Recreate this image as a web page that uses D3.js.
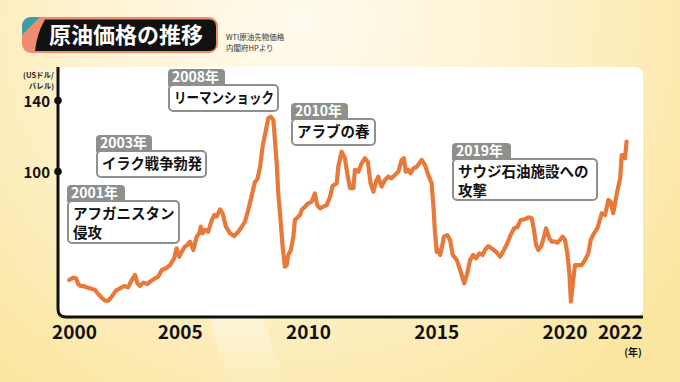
<!DOCTYPE html>
<html lang="ja">
<head>
<meta charset="utf-8">
<script src="https://cdn.jsdelivr.net/npm/d3@7"></script>
<style>
  html, body { margin: 0; padding: 0; background: #fbe9a6; }
  svg { display: block; }
  text { font-family: "Noto Sans CJK JP", "Noto Sans", sans-serif; }
</style>
</head>
<body>
<div id="chart"></div>
<script>
// WTI monthly price (year as decimal, USD/bbl)
var years = [2000.69,2000.85,2000.96,2001.04,2001.14,2001.24,2001.35,2001.50,2001.70,2001.82,
    2001.96,2002.09,2002.21,2002.35,2002.51,2002.67,2002.83,2002.99,2003.13,2003.26,
    2003.35,2003.45,2003.58,2003.73,2003.84,2004.03,2004.16,2004.30,2004.46,2004.62,
    2004.78,2004.88,2004.98,2005.08,2005.20,2005.29,2005.40,2005.53,2005.66,2005.76,
    2005.82,2005.89,2005.98,2006.11,2006.25,2006.35,2006.44,2006.57,2006.67,2006.80,
    2006.96,2007.12,2007.28,2007.42,2007.54,2007.66,2007.82,2007.93,2008.03,2008.13,
    2008.23,2008.36,2008.45,2008.55,2008.65,2008.71,2008.78,2008.84,2008.94,2009.01,
    2009.10,2009.17,2009.23,2009.33,2009.43,2009.49,2009.62,2009.69,2009.75,2009.88,
    2010.01,2010.14,2010.27,2010.36,2010.47,2010.60,2010.73,2010.86,2010.96,2011.12,
    2011.18,2011.31,2011.44,2011.53,2011.64,2011.77,2011.83,2011.96,2012.09,2012.22,
    2012.33,2012.44,2012.55,2012.65,2012.74,2012.87,2013.00,2013.13,2013.26,2013.39,
    2013.52,2013.65,2013.74,2013.81,2013.91,2014.00,2014.11,2014.24,2014.43,2014.56,
    2014.69,2014.82,2014.89,2014.95,2015.02,2015.08,2015.15,2015.21,2015.30,2015.43,
    2015.54,2015.64,2015.80,2015.95,2016.09,2016.21,2016.32,2016.44,2016.55,2016.68,
    2016.81,2016.90,2017.03,2017.16,2017.33,2017.49,2017.64,2017.77,2017.90,2018.03,
    2018.16,2018.29,2018.46,2018.59,2018.72,2018.81,2018.89,2018.98,2019.11,2019.20,
    2019.28,2019.41,2019.50,2019.63,2019.72,2019.82,2019.93,2020.02,2020.11,2020.19,
    2020.25,2020.34,2020.41,2020.54,2020.67,2020.80,2020.93,2021.02,2021.15,2021.28,
    2021.38,2021.45,2021.58,2021.71,2021.80,2021.90,2022.04,2022.17,2022.23,2022.32,
    2022.36,2022.42];

var prices = [38.6,39.9,39.5,36.3,35.2,35.2,34.5,33.9,33.0,30.7,
    28.6,26.9,26.9,29.2,32.6,33.9,35.2,34.5,38.6,41.4,
    36.7,35.2,37.1,36.3,37.6,39.5,40.4,44.2,45.2,47.0,
    50.8,56.4,51.7,54.5,57.4,58.3,60.2,55.5,63.0,64.9,
    68.6,64.9,66.8,65.8,72.4,75.2,74.3,78.4,76.2,68.6,
    64.9,63.4,65.8,68.6,71.3,77.5,87.0,93.8,95.5,102.3,
    113.7,123.1,129.7,130.6,128.7,117.5,104.3,87.4,70.5,57.4,
    46.1,47.0,52.7,55.5,63.0,72.4,74.3,75.2,78.0,79.9,
    81.8,82.7,87.4,80.8,79.0,79.9,80.8,85.5,91.5,93.1,
    102.4,110.9,107.2,98.7,90.3,90.3,100.6,99.6,104.3,107.2,
    105.2,93.1,88.3,94.0,96.8,91.2,94.9,96.8,95.9,97.7,
    99.6,106.2,107.2,99.6,100.6,98.7,101.5,102.4,106.2,103.4,
    97.7,93.2,79.9,65.6,54.4,55.5,52.7,56.4,63.0,63.9,
    61.1,52.7,49.9,43.3,36.7,42.4,49.9,52.7,50.8,53.6,
    52.7,55.5,57.7,56.4,54.5,51.7,55.5,59.3,63.9,67.7,
    68.3,72.4,72.8,73.9,73.4,66.8,58.3,55.5,58.3,63.0,
    67.7,62.1,60.2,60.2,59.6,61.1,63.0,61.1,53.6,42.4,
    26.4,38.6,47.0,47.0,47.0,49.9,53.6,61.1,64.9,67.7,
    72.4,76.2,75.2,83.7,82.7,76.2,87.4,95.9,109.0,109.0,
    107.2,116.5];

var yTicks = [100, 140];
var xTicks = [2000, 2005, 2010, 2015, 2020, 2022];

var eventYears = ['2001年', '2003年', '2008年', '2010年', '2019年'];
var eventTexts = [
    ['アフガニスタン', '侵攻'],
    ['イラク戦争勃発'],
    ['リーマンショック'],
    ['アラブの春'],
    ['サウジ石油施設への', '攻撃']
];

// where each label box sits: [left, tab top, tab width, box width, box height]
var eventBoxes = [
    [68, 185, 57, 111, 42],
    [97, 135, 55, 109, 26],
    [169, 69, 56, 109, 26],
    [292, 103, 56, 83, 26],
    [453, 143, 58, 144, 41]
];

var width = 680;
var height = 382;

var svg = d3.select('#chart')
    .append('svg')
    .attr('width', width)
    .attr('height', height);

var defs = svg.append('defs');

var glow = defs.append('radialGradient')
    .attr('id', 'glow')
    .attr('gradientUnits', 'userSpaceOnUse')
    .attr('cx', 300).attr('cy', 20).attr('r', 460);
glow.append('stop').attr('offset', '0%').attr('stop-color', '#fffbee');
glow.append('stop').attr('offset', '45%').attr('stop-color', '#fef3d2');
glow.append('stop').attr('offset', '100%').attr('stop-color', '#fbe6a0');

var ray = defs.append('linearGradient')
    .attr('id', 'ray')
    .attr('x1', 0).attr('y1', 0).attr('x2', 0).attr('y2', 1);
ray.append('stop').attr('offset', '0%').attr('stop-color', '#fffaea').attr('stop-opacity', 0.6);
ray.append('stop').attr('offset', '100%').attr('stop-color', '#fffaea').attr('stop-opacity', 0.1);

// background
svg.append('rect')
    .attr('width', width)
    .attr('height', height)
    .style('fill', 'url(#glow)');

svg.append('path')
    .attr('d', 'M210,317 L262,317 L285,382 L228,382 Z')
    .style('fill', 'url(#ray)');

// plot panel
var plotL = 58, plotT = 67, plotR = 643, plotB = 317;

svg.append('rect')
    .attr('x', plotL)
    .attr('y', plotT)
    .attr('width', plotR - plotL)
    .attr('height', plotB - plotT)
    .attr('rx', 8)
    .style('fill', '#fff');

var x = d3.scaleLinear()
    .domain([2000, 2022])
    .range([51.5, 615.8]);

var y = d3.scaleLinear()
    .domain([100, 140])
    .range([171, 100]);

// line
var line = d3.line()
    .x(function(d) { return x(d[0]); })
    .y(function(d) { return y(d[1]); });

var points = years.map(function(yr, i) {
    return [yr, prices[i]];
});

svg.append('path')
    .datum(points)
    .attr('d', line)
    .style('fill', 'none')
    .style('stroke', '#e8793a')
    .style('stroke-width', 4.2)
    .style('stroke-linejoin', 'round')
    .style('stroke-linecap', 'round');

// axis frame: left line curving into the bottom line
svg.append('path')
    .attr('d', 'M' + plotL + ',' + plotT + ' V' + (plotB - 8) +
        ' Q' + plotL + ',' + plotB + ' ' + (plotL + 8) + ',' + plotB + ' H' + plotR)
    .style('fill', 'none')
    .style('stroke', '#111')
    .style('stroke-width', 3);

// y axis
var yAxis = svg.append('g')
    .attr('transform', 'translate(' + plotL + ',0)')
    .call(d3.axisLeft(y).tickValues(yTicks).tickSize(0).tickPadding(8));

yAxis.select('.domain').remove();
yAxis.selectAll('.tick text')
    .style('font-size', '15px')
    .style('font-weight', 'bold')
    .style('fill', '#111')
    .attr('dy', '0.4em');
yAxis.selectAll('.tick')
    .append('circle')
    .attr('r', 3.8)
    .style('fill', '#111');

var unit = svg.append('text')
    .attr('text-anchor', 'end')
    .style('font-size', '7.5px')
    .style('font-weight', 'bold')
    .style('fill', '#222');
unit.append('tspan').attr('x', 54).attr('y', 78).text('(USドル/');
unit.append('tspan').attr('x', 54).attr('y', 89).text('バレル)');

// x axis
var xAxis = svg.append('g')
    .attr('transform', 'translate(0,' + plotB + ')')
    .call(d3.axisBottom(x).tickValues(xTicks).tickSize(0).tickPadding(8).tickFormat(d3.format('d')));

xAxis.select('.domain').remove();
xAxis.selectAll('.tick text')
    .style('font-size', '19px')
    .style('font-weight', 'bold')
    .style('fill', '#111')
    .attr('text-anchor', function(d) { return d === 2000 ? 'start' : 'middle'; })
    .attr('dx', function(d) { return d === 2022 ? 4 : 0; });

svg.append('text')
    .attr('x', x(2022) + 26)
    .attr('y', 356)
    .attr('text-anchor', 'end')
    .style('font-size', '10px')
    .style('font-weight', 'bold')
    .style('fill', '#111')
    .text('(年)');

// event labels
eventYears.forEach(function(label, i) {
    var b = eventBoxes[i];
    var bx = b[0], ty = b[1], tw = b[2], bw = b[3], bh = b[4];
    var th = 16;
    var by = ty + th;
    var g = svg.append('g');

    g.append('rect')
        .attr('x', bx)
        .attr('y', by)
        .attr('width', bw)
        .attr('height', bh)
        .attr('rx', 4)
        .style('fill', '#fff')
        .style('stroke', '#8d908d')
        .style('stroke-width', 2);

    g.append('path')
        .attr('d', 'M' + (bx - 1) + ',' + (by + 1) + ' V' + (ty + 4) +
            ' Q' + (bx - 1) + ',' + ty + ' ' + (bx + 3) + ',' + ty +
            ' H' + (bx + tw - 4) + ' Q' + (bx + tw) + ',' + ty + ' ' + (bx + tw) + ',' + (ty + 4) +
            ' V' + (by + 1) + ' Z')
        .style('fill', '#8d908d');

    g.append('text')
        .attr('x', bx + 3)
        .attr('y', by - 3)
        .style('font-size', '14px')
        .style('font-weight', 'bold')
        .style('fill', '#fff')
        .text(label);

    var body = g.append('text')
        .style('font-size', '14.5px')
        .style('font-weight', 'bold')
        .style('fill', '#111');
    var maxW = bw - 9;
    eventTexts[i].forEach(function(t, j) {
        var ts = body.append('tspan')
            .attr('x', bx + 5)
            .attr('y', by + 18 + j * 19)
            .text(t);
        if (ts.node().getComputedTextLength() > maxW) {
            ts.attr('textLength', maxW).attr('lengthAdjust', 'spacingAndGlyphs');
        }
    });
});

// title plate
var title = svg.append('g');
title.append('rect')
    .attr('x', 22).attr('y', 17)
    .attr('width', 196).attr('height', 36)
    .attr('rx', 9)
    .style('fill', '#ef8c72');
title.append('path')
    .attr('d', 'M22,28 Q22,17 32,17 L40,17 L22,35 Z')
    .style('fill', '#3a9ea6');
title.append('path')
    .attr('d', 'M45,19.5 H209 Q216,19.5 216,26.5 V44 Q216,51 209,51 H35 Q37,33 45,19.5 Z')
    .style('fill', '#111');
title.append('text')
    .attr('x', 49)
    .attr('y', 43)
    .style('font-size', '22px')
    .style('font-weight', 'bold')
    .style('fill', '#fff')
    .text('原油価格の推移');

var source = svg.append('text')
    .style('font-size', '7.5px')
    .style('fill', '#333');
source.append('tspan').attr('x', 226).attr('y', 39.5).text('WTI原油先物価格');
source.append('tspan').attr('x', 226).attr('y', 50.5).text('内閣府HPより');
</script>
</body>
</html>
